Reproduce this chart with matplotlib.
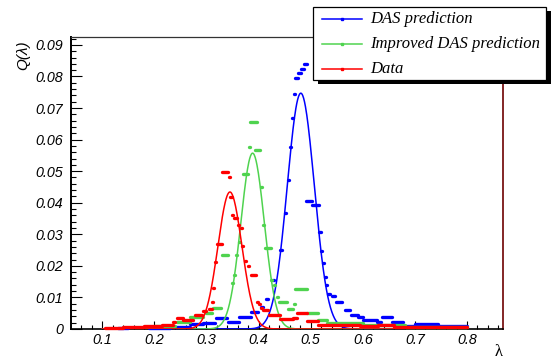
import numpy as np
import matplotlib
matplotlib.use("Agg")
import matplotlib.pyplot as plt
from matplotlib.patches import Rectangle
from matplotlib.lines import Line2D

# Gaussian fit parameters: amplitude, mean, sigma
fit_names = ["DAS prediction", "Improved DAS prediction", "Data"]
fit_amp = [0.0747, 0.0557, 0.0434]
fit_mean = [0.481, 0.3885, 0.345]
fit_sigma = [0.026, 0.0225, 0.023]

# binned points, stored as runs: (x start, x end, value)
das_x0 = [0.130, 0.190, 0.234, 0.268, 0.293, 0.318, 0.341, 0.363, 0.386, 0.405, 0.415,
          0.427, 0.441, 0.450, 0.456, 0.461, 0.464, 0.467, 0.470, 0.476, 0.482, 0.488,
          0.491, 0.503, 0.516, 0.520, 0.523, 0.527, 0.530, 0.534, 0.540, 0.549, 0.565,
          0.578, 0.590, 0.600, 0.627, 0.636, 0.656, 0.680, 0.700, 0.745]
das_x1 = [0.150, 0.230, 0.268, 0.293, 0.316, 0.340, 0.362, 0.386, 0.398, 0.409, 0.418,
          0.430, 0.444, 0.453, 0.459, 0.463, 0.466, 0.469, 0.476, 0.482, 0.488, 0.493,
          0.503, 0.515, 0.519, 0.522, 0.525, 0.529, 0.532, 0.537, 0.547, 0.560, 0.575,
          0.590, 0.600, 0.627, 0.634, 0.656, 0.677, 0.700, 0.745, 0.800]
das_y = [0.0004, 0.0004, 0.0007, 0.0015, 0.0018, 0.0036, 0.0021, 0.0037, 0.0055, 0.0070, 0.0095,
         0.0155, 0.0250, 0.0369, 0.0472, 0.0575, 0.0667, 0.0746, 0.0795, 0.0810, 0.0825, 0.0838,
         0.0404, 0.0392, 0.0308, 0.0248, 0.0208, 0.0166, 0.0139, 0.0112, 0.0105, 0.0085, 0.0060,
         0.0045, 0.0038, 0.0028, 0.0021, 0.0037, 0.0023, 0.0011, 0.0015, 0.0010]

imp_x0 = [0.200, 0.243, 0.268, 0.300, 0.313, 0.329, 0.348, 0.353, 0.356, 0.362, 0.371,
          0.381, 0.384, 0.393, 0.404, 0.408, 0.413, 0.424, 0.430, 0.436, 0.440, 0.457,
          0.467, 0.470, 0.493, 0.514, 0.531, 0.600, 0.680]
imp_x1 = [0.240, 0.268, 0.293, 0.310, 0.327, 0.342, 0.350, 0.355, 0.358, 0.364, 0.380,
          0.383, 0.397, 0.403, 0.406, 0.410, 0.423, 0.426, 0.432, 0.438, 0.454, 0.466,
          0.469, 0.492, 0.514, 0.531, 0.600, 0.680, 0.800]
imp_y = [0.0010, 0.0023, 0.0039, 0.0050, 0.0068, 0.0234, 0.0147, 0.0170, 0.0234, 0.0275, 0.0490,
         0.0575, 0.0656, 0.0566, 0.0450, 0.0329, 0.0256, 0.0155, 0.0139, 0.0102, 0.0086, 0.0062,
         0.0080, 0.0127, 0.0052, 0.0028, 0.0018, 0.0012, 0.0006]

data_x0 = [0.105, 0.140, 0.180, 0.215, 0.235, 0.243, 0.255, 0.278, 0.293, 0.304, 0.310,
           0.313, 0.316, 0.320, 0.329, 0.344, 0.346, 0.349, 0.352, 0.361, 0.366, 0.369,
           0.374, 0.379, 0.385, 0.396, 0.401, 0.404, 0.408, 0.420, 0.441, 0.466, 0.474,
           0.493, 0.514, 0.595, 0.630, 0.660]
data_x1 = [0.140, 0.180, 0.215, 0.235, 0.240, 0.255, 0.275, 0.291, 0.300, 0.310, 0.312,
           0.315, 0.318, 0.329, 0.342, 0.346, 0.348, 0.351, 0.359, 0.363, 0.368, 0.371,
           0.376, 0.381, 0.395, 0.398, 0.403, 0.407, 0.418, 0.441, 0.466, 0.473, 0.493,
           0.514, 0.595, 0.630, 0.660, 0.800]
data_y = [0.0004, 0.0006, 0.0009, 0.0014, 0.0022, 0.0034, 0.0028, 0.0044, 0.0057, 0.0063, 0.0086,
          0.0129, 0.0211, 0.0269, 0.0496, 0.0482, 0.0417, 0.0360, 0.0352, 0.0330, 0.0320, 0.0262,
          0.0216, 0.0200, 0.0170, 0.0086, 0.0078, 0.0067, 0.0060, 0.0043, 0.0031, 0.0036, 0.0050,
          0.0026, 0.0013, 0.0009, 0.0012, 0.0006]

series_x0 = [das_x0, imp_x0, data_x0]
series_x1 = [das_x1, imp_x1, data_x1]
series_y = [das_y, imp_y, data_y]
colors = ["#0000ff", "#4fd34f", "#ff0000"]

x_ticks = [0.1, 0.2, 0.3, 0.4, 0.5, 0.6, 0.7, 0.8]
y_ticks = [0, 0.01, 0.02, 0.03, 0.04, 0.05, 0.06, 0.07, 0.08, 0.09]
y_tick_labels = ["0", "0.01", "0.02", "0.03", "0.04", "0.05", "0.06", "0.07", "0.08", "0.09"]

W, H = 553, 360
fig = plt.figure(figsize=(W / 100, H / 100), dpi=100)
ax = fig.add_axes([71 / W, 31 / H, 432 / W, 292 / H])

xs = np.linspace(0.1, 0.8, 800)
for i in range(3):
    ax.hlines(series_y[i], series_x0[i], series_x1[i], colors=colors[i],
              lw=2.4, capstyle="round", zorder=3 + i, clip_on=False)
    g = fit_amp[i] * np.exp(-0.5 * ((xs - fit_mean[i]) / fit_sigma[i]) ** 2)
    ax.plot(xs, g, color=colors[i], lw=1.1, zorder=3 + i)

ax.set_xlim(0.04, 0.869)
ax.set_ylim(0, 0.0925)

tick_font = dict(family="Liberation Sans", style="italic", size=10.3)
ax.set_xticks(x_ticks)
ax.set_xticklabels([f"{v:.1f}" for v in x_ticks], **tick_font)
ax.set_xticks(np.arange(0.06, 0.87, 0.02), minor=True)
ax.set_yticks(y_ticks)
ax.set_yticklabels(y_tick_labels, **tick_font)
ax.set_yticks(np.arange(0, 0.0925, 0.002), minor=True)

ax.tick_params(axis="x", which="major", direction="in", length=5.8, width=0.8, pad=3)
ax.tick_params(axis="x", which="minor", direction="in", length=2.9, width=0.8)
ax.tick_params(axis="y", which="major", direction="in", length=7.6, width=0.8, pad=5.5)
ax.tick_params(axis="y", which="minor", direction="in", length=3.6, width=0.8)

ax.spines["left"].set_linewidth(1.4)
ax.spines["bottom"].set_linewidth(1.2)
ax.spines["top"].set_linewidth(0.9)
ax.spines["top"].set_color("#333333")
ax.spines["right"].set_linewidth(1.3)
ax.spines["right"].set_color("#7a1515")

fig.text(23 / W, 1 - 40 / H, "Q(λ)", rotation=90, ha="center", va="top",
         family="Liberation Sans", style="italic", size=11)
fig.text(503 / W, 1 - 352 / H, "λ", ha="right", va="center",
         family="Liberation Serif", size=12)

# legend box with solid shadow
def fx(px):
    return px / W

def fy(py):
    return 1 - py / H

fig.add_artist(Rectangle((fx(318), fy(84)), fx(233), 73 / H, transform=fig.transFigure,
                         facecolor="black", edgecolor="none", zorder=10))
fig.add_artist(Rectangle((fx(313), fy(80)), fx(233), 73 / H, transform=fig.transFigure,
                         facecolor="white", edgecolor="black", lw=0.9, zorder=11))
for i, yy in enumerate([19, 43.5, 69]):
    fig.add_artist(Line2D([fx(322), fx(362)], [fy(yy), fy(yy)], transform=fig.transFigure,
                          color=colors[i], lw=1.1, zorder=12))
    fig.add_artist(Line2D([fx(342)], [fy(yy)], transform=fig.transFigure, marker="s",
                          ms=1.6, color=colors[i], zorder=12))
    fig.text(fx(370), fy(yy), fit_names[i], ha="left", va="center", family="Liberation Serif",
             style="italic", size=12, zorder=12)

fig.savefig("out.png", dpi=100)
